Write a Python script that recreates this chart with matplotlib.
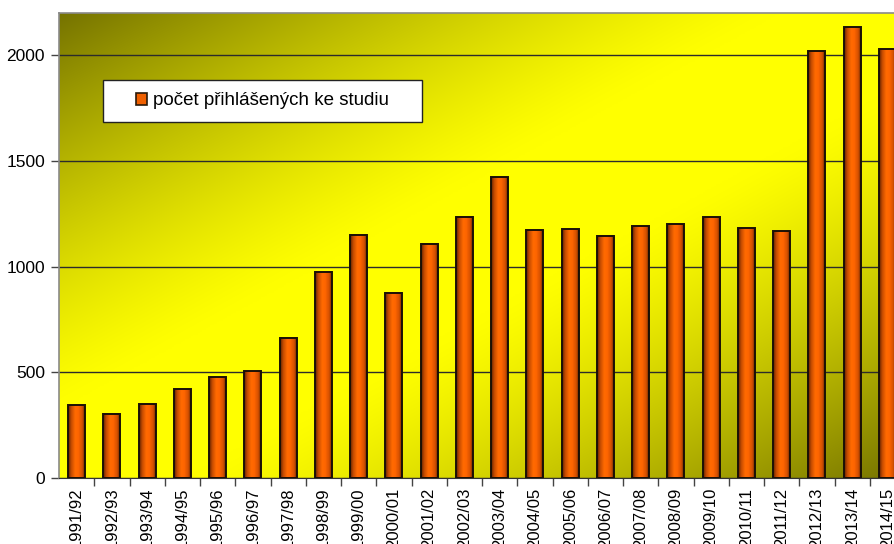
import numpy as np
import matplotlib
matplotlib.use("Agg")
import matplotlib.pyplot as plt
from matplotlib.colors import LinearSegmentedColormap
from matplotlib.patches import Patch
from matplotlib.path import Path

years = ["1991/92", "1992/93", "1993/94", "1994/95", "1995/96", "1996/97",
         "1997/98", "1998/99", "1999/00", "2000/01", "2001/02", "2002/03",
         "2003/04", "2004/05", "2005/06", "2006/07", "2007/08", "2008/09",
         "2009/10", "2010/11", "2011/12", "2012/13", "2013/14", "2014/15"]
prihlaseni = [345, 303, 349, 420, 476, 506, 663, 975, 1151, 877, 1108, 1237,
              1422, 1171, 1177, 1147, 1192, 1201, 1234, 1182, 1168, 2018, 2133, 2029]
y_ticks = [0, 500, 1000, 1500, 2000]
serie = "počet přihlášených ke studiu"

narrow = ["Liberation Sans Narrow", "Liberation Sans", "DejaVu Sans"]
plt.rcParams["font.family"] = ["Liberation Sans", "DejaVu Sans"]

fig = plt.figure(figsize=(8.95, 5.44), dpi=100)
fig.patch.set_facecolor("white")
ax = fig.add_axes([59 / 895, 66 / 544, 846 / 895, 465 / 544])

# diagonal background: dark olive in two corners, wide yellow band in between
u = np.linspace(0, 1, 400)
v = np.linspace(0, 1, 300)
U, V = np.meshgrid(u, v)
d = np.abs(U + V - 1)
f = np.clip((d - 0.15) / 0.85, 0, 1) ** 1.3
dark = np.array([0.46, 0.45, 0.0])
bright = np.array([1.0, 1.0, 0.0])
bg = bright + (dark - bright) * f[..., None]
ax.imshow(bg, extent=(0, 1, 0, 1), transform=ax.transAxes, aspect="auto",
          interpolation="bilinear", zorder=-5)

x = np.arange(len(years))
bars = ax.bar(x, prihlaseni, width=0.48, facecolor="none", edgecolor="#1a1006",
              linewidth=1.4, zorder=3)

# cylinder-like shading inside each bar
bar_cmap = LinearSegmentedColormap.from_list(
    "valec", [(0.0, "#5a2000"), (0.18, "#c24a00"), (0.42, "#ff6a00"),
              (0.6, "#ff6600"), (0.85, "#d45000"), (1.0, "#6a2800")])
shade = np.linspace(0, 1, 64)[None, :]
for p in bars.patches:
    ax.imshow(shade, cmap=bar_cmap, extent=(p.get_x(), p.get_x() + p.get_width(),
              0, p.get_height()), aspect="auto", interpolation="bilinear", zorder=2)

ax.set_xlim(-0.5, len(years) - 0.5)
ax.set_ylim(0, 2200)

ax.set_yticks(y_ticks)
ax.set_yticklabels([str(t) for t in y_ticks], family=narrow, fontsize=12.5)
ax.yaxis.grid(True, color="#2b2b2b", linewidth=1.0, zorder=1)
ax.set_axisbelow(True)
ax.tick_params(axis="y", length=6, width=1, color="#444444", pad=4)

ax.set_xticks(x)
ax.set_xticklabels(years, rotation=90, fontsize=12, va="top", ha="center")
ax.set_xticks(x[:-1] + 0.5, minor=True)
ax.tick_params(axis="x", which="major", length=0, pad=7)
ax.tick_params(axis="x", which="minor", length=6, width=1, color="#444444")

for side in ["left", "top", "right"]:
    ax.spines[side].set_color("#8a8a8a")
    ax.spines[side].set_linewidth(1.2)
ax.spines["bottom"].set_color("#333333")


def legend_frame(x0, y0, width, height, mutation_size):
    px = 1.76 * mutation_size
    py = 0.69 * mutation_size
    verts = [(x0 - px, y0 - py), (x0 + width + px, y0 - py),
             (x0 + width + px, y0 + height + py), (x0 - px, y0 + height + py),
             (x0 - px, y0 - py)]
    return Path(verts, [Path.MOVETO, Path.LINETO, Path.LINETO, Path.LINETO,
                        Path.CLOSEPOLY])


handle = Patch(facecolor="#f06000", edgecolor="#2a1a0a", linewidth=1.2)
leg = ax.legend([handle], [serie], loc="center", bbox_to_anchor=(0.2405, 0.8108),
                prop={"family": narrow, "size": 13.5}, borderpad=0,
                handlelength=0.6, handleheight=0.6, handletextpad=0.3,
                fancybox=False, framealpha=1)
frame = leg.get_frame()
frame.set_boxstyle(legend_frame)
frame.set_edgecolor("#222222")
frame.set_linewidth(1.0)

fig.savefig("out.png", dpi=100)
